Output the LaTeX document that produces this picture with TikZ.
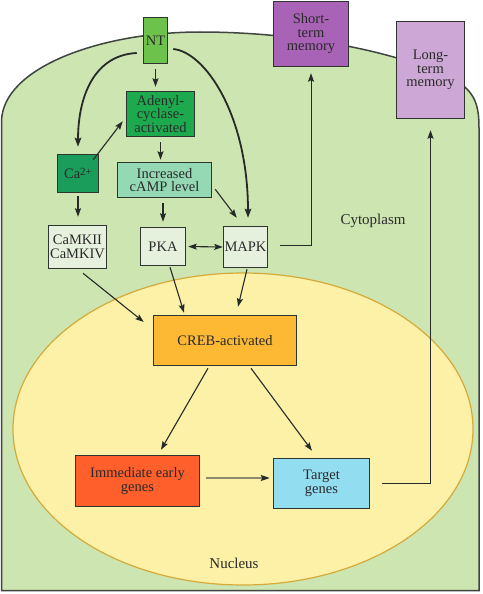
\documentclass[tikz,border=0pt]{standalone}
\usepackage{fontspec}
\setmainfont{Liberation Serif}
\usetikzlibrary{arrows.meta}
\definecolor{cellfill}{HTML}{CDE5B1}
\definecolor{cellline}{HTML}{3F4540}
\definecolor{nucfill}{HTML}{FDF1A8}
\definecolor{nucline}{HTML}{D4AA3A}
\definecolor{ntfill}{HTML}{6DC24B}
\definecolor{adfill}{HTML}{1DAA4F}
\definecolor{cafill}{HTML}{1A9C5A}
\definecolor{incfill}{HTML}{94D9B4}
\definecolor{kinfill}{HTML}{E6F1DD}
\definecolor{crebfill}{HTML}{FDB934}
\definecolor{immfill}{HTML}{FF5F2A}
\definecolor{tgtfill}{HTML}{93DDF0}
\definecolor{stfill}{HTML}{A862B6}
\definecolor{ltfill}{HTML}{CDA8D6}
\definecolor{boxline}{HTML}{2E3430}
\definecolor{txt}{HTML}{2A2A2A}
\definecolor{linec}{HTML}{262A28}
\definecolor{olivec}{HTML}{8C8A6A}
\begin{document}
\begin{tikzpicture}[x=1pt,y=-1pt,
  box/.style={draw=boxline, line width=1.5pt, align=center, inner sep=0pt,
    font=\fontsize{14.5}{13.5}\selectfont, text=txt},
  lbl/.style={font=\fontsize{15}{15}\selectfont, text=txt, inner sep=0pt},
  arr/.style={draw=linec, line width=1.1pt,
    -{Stealth[length=8.5pt,width=6pt,inset=1.5pt]}},
  curvarr/.style={draw=linec, line width=1.8pt,
    -{Stealth[length=9pt,width=6.5pt,inset=1.5pt]}},
  thinarr/.style={draw=linec, line width=0.9pt,
    -{Stealth[length=8.5pt,width=6pt,inset=1.5pt]}}]
\useasboundingbox (0,0) rectangle (482,594);

% cell
\draw[fill=cellfill, draw=cellline, line width=1.5pt]
  (1.5,590.5) -- (1.5,122) .. controls (1.5,68) and (100,32) .. (200,32)
  .. controls (300,32) and (400,52) .. (455,80)
  .. controls (475,92) and (479,105) .. (479,128) -- (479,590.5) -- cycle;
% nucleus
\draw[fill=nucfill, draw=nucline, line width=1.2pt] (243,429) ellipse [x radius=230, y radius=156];

\node[lbl] (cyto) at (373,221) {Cytoplasm};
\node[lbl] (nuc) at (234,563) {Nucleus};

% nodes
\node[box, fill=ntfill, minimum width=24pt, minimum height=46pt] (NT) at (155.5,40.5) {NT};
\node[box, fill=adfill, minimum width=68pt, minimum height=45pt] (AD) at (160.5,114) {Adenyl-\\cyclase-\\activated};
\node[box, fill=cafill, minimum width=41pt, minimum height=38pt] (CA) at (78,173.5) {Ca\raisebox{0.55ex}{\fontsize{11}{11}\selectfont 2+}};
\node[box, fill=incfill, minimum width=94pt, minimum height=35pt] (INC) at (164.5,180) {Increased\\cAMP level};
\node[box, fill=kinfill, minimum width=58pt, minimum height=43pt] (CAMK) at (77.5,247) {CaMKII\\CaMKIV};
\node[box, fill=kinfill, minimum width=45pt, minimum height=38pt] (PKA) at (163,246.5) {PKA};
\node[box, fill=kinfill, minimum width=44pt, minimum height=41pt] (MAPK) at (245.5,247) {MAPK};
\node[box, fill=crebfill, minimum width=143pt, minimum height=50pt] (CREB) at (225,340.5) {CREB-activated};
\node[box, fill=immfill, minimum width=124pt, minimum height=51pt] (IMM) at (137.5,481) {Immediate early\\genes};
\node[box, fill=tgtfill, minimum width=96pt, minimum height=50pt] (TGT) at (321.5,483.5) {Target\\genes};
\node[box, fill=stfill, minimum width=75pt, minimum height=65pt] (ST) at (311,34) {Short-\\term\\memory};
\node[box, fill=ltfill, minimum width=68pt, minimum height=97pt] (LT) at (430.5,70) {Long-\\term\\memory};

% connectors
\draw[arr, shorten <=5pt, shorten >=4pt] (NT.south) -- (NT.south |- AD.north);
\draw[arr, shorten <=5pt, shorten >=2pt] (AD.south) -- (AD.south |- INC.north);
\draw[arr, shorten <=5pt, shorten >=5pt] (PKA.north |- INC.south) -- (PKA.north);
\draw[arr] ([xshift=3pt,yshift=9pt]INC.south east) -- ([xshift=14pt,yshift=8pt]MAPK.north west);
\draw[arr, shorten <=3pt, shorten >=8pt] (CA.south) -- (CA.south |- CAMK.north);
\draw[arr] ([xshift=-6pt,yshift=-6pt]CA.north east) -- ([xshift=-3pt,yshift=16pt]AD.south west);
\draw[draw=linec, line width=1.1pt,
  {Stealth[length=8.5pt,width=6pt,inset=1.5pt]}-{Stealth[length=8.5pt,width=6pt,inset=1.5pt]},
  shorten <=2pt] (PKA.east) -- (MAPK.west);

\draw[curvarr, shorten >=7pt] ([xshift=-6pt,yshift=-12.5pt]NT.west)
  .. controls (95,55) and (78,95) .. (CA.north);
\draw[curvarr, shorten >=8pt] ([xshift=5pt,yshift=-8.5pt]NT.east)
  .. controls (205,52) and (248,115) .. ([xshift=2.5pt]MAPK.north);

\draw[thinarr, shorten >=6pt] ([xshift=12pt,yshift=2pt]MAPK.east) -| (ST.south);

\draw[arr] ([xshift=5.5pt,yshift=-4pt]CAMK.south) -- ([xshift=-9pt,yshift=18.5pt]CREB.west);
\draw[arr] ([xshift=7pt,yshift=-1pt]PKA.south) -- ([xshift=-41pt,yshift=2pt]CREB.north);
\draw[arr] ([xshift=1.5pt,yshift=-1pt]MAPK.south) -- ([xshift=13pt,yshift=8pt]CREB.north);

\draw[arr] ([xshift=-17pt,yshift=-2pt]CREB.south) -- ([xshift=23.5pt,yshift=5pt]IMM.north);
\draw[arr] ([xshift=26pt,yshift=-2pt]CREB.south) -- ([xshift=-9.5pt,yshift=7pt]TGT.north);

\draw[draw=olivec, line width=1.4pt, -{Stealth[length=9pt,width=6pt,inset=1.5pt,color=linec]}]
  ([xshift=6pt,yshift=3pt]IMM.east) -- ([xshift=-3pt,yshift=5.5pt]TGT.west);

\draw[thinarr, shorten >=11pt] ([xshift=12pt,yshift=0.5pt]TGT.east) -| (LT.south);
\end{tikzpicture}
\end{document}
